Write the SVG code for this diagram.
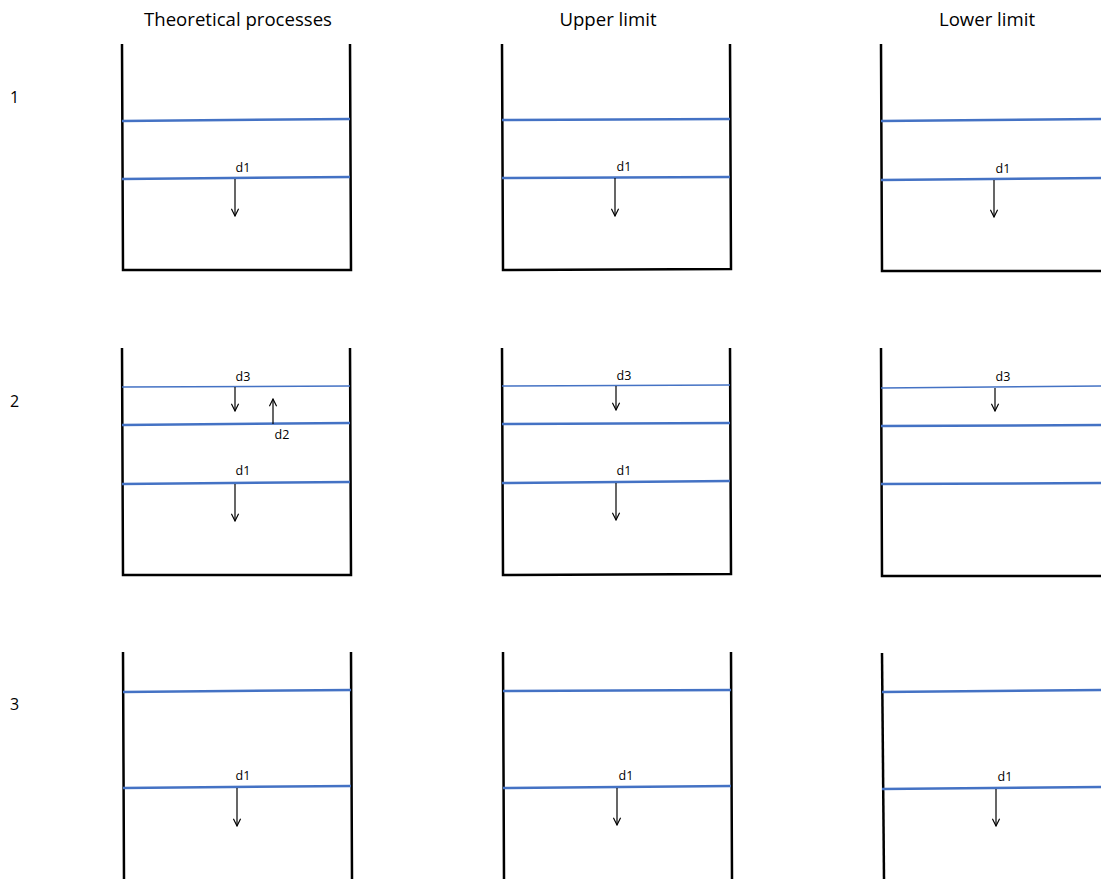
<svg xmlns="http://www.w3.org/2000/svg" width="1101" height="879" viewBox="0 0 1101 879">
<style>
.wall{stroke:#000;stroke-width:2.5;fill:none}
.lay{stroke:#4472c4;stroke-width:2.5;fill:none}
.thin{stroke:#4472c4;stroke-width:1.5;fill:none}
.arr{stroke:#000;stroke-width:1.2;fill:none}
.hd{font-family:"Open Sans",sans-serif;font-size:18.6px;fill:#000;text-anchor:middle}
.rn{font-family:"Open Sans",sans-serif;font-size:16px;fill:#000}
.lb{font-family:"Open Sans",sans-serif;font-size:12.5px;fill:#000;text-anchor:middle}
</style>
<defs>
<marker id="ah" viewBox="0 0 10 10" refX="9" refY="5" markerWidth="9" markerHeight="9" orient="auto" markerUnits="userSpaceOnUse">
<path d="M1,1 L9,5 L1,9" fill="none" stroke="#000" stroke-width="1.3"/>
</marker>
</defs>
<rect width="1101" height="879" fill="#fff"/>
<g id="headers">
<text class="hd" x="238" y="26">Theoretical processes</text>
<text class="hd" x="608" y="26">Upper limit</text>
<text class="hd" x="987" y="26">Lower limit</text>
</g>
<g id="rows">
<text class="rn" x="10" y="103">1</text>
<text class="rn" x="10" y="407">2</text>
<text class="rn" x="10" y="710">3</text>
</g>
<g id="r1c1">
<path class="wall" d="M122,44 L123,270 L351,270 L350,44"/>
<path class="lay" d="M122,121 L350,119"/>
<path class="lay" d="M122,179 L350,177"/>
<text class="lb" x="243" y="172">d1</text>
</g>
<g id="r1c2">
<path class="wall" d="M502,44 L503,270 L731,269 L730,44"/>
<path class="lay" d="M502,120 L730,119"/>
<path class="lay" d="M502,178 L730,177"/>
<text class="lb" x="624" y="171">d1</text>
</g>
<g id="r1c3">
<path class="wall" d="M881,44 L882,271 L1101,271"/>
<path class="lay" d="M881,121 L1101,119"/>
<path class="lay" d="M881,180 L1101,178"/>
<text class="lb" x="1003" y="173">d1</text>
</g>
<g id="r2c1">
<path class="wall" d="M122,348 L123,575 L351,575 L350,348"/>
<path class="thin" d="M122,387 L350,386"/>
<path class="lay" d="M122,425 L350,423"/>
<path class="lay" d="M122,484 L350,482"/>
<text class="lb" x="243" y="381">d3</text>
<text class="lb" x="282" y="439">d2</text>
<text class="lb" x="243" y="475">d1</text>
</g>
<g id="r2c2">
<path class="wall" d="M502,348 L503,575 L731,574 L730,348"/>
<path class="thin" d="M502,386 L730,385"/>
<path class="lay" d="M502,424 L730,423"/>
<path class="lay" d="M502,483 L730,481"/>
<text class="lb" x="624" y="380">d3</text>
<text class="lb" x="624" y="475">d1</text>
</g>
<g id="r2c3">
<path class="wall" d="M881,348 L882,576 L1101,576"/>
<path class="thin" d="M881,388 L1101,386"/>
<path class="lay" d="M881,426 L1101,425"/>
<path class="lay" d="M881,484 L1101,483"/>
<text class="lb" x="1003" y="381">d3</text>
</g>
<g id="r3c1">
<path class="wall" d="M123,652 L124,879 M351,652 L352,879"/>
<path class="lay" d="M123,692 L351,690"/>
<path class="lay" d="M123,788 L351,786"/>
<text class="lb" x="243" y="780">d1</text>
</g>
<g id="r3c2">
<path class="wall" d="M503,652 L504,879 M731,652 L732,879"/>
<path class="lay" d="M503,691 L731,690"/>
<path class="lay" d="M503,788 L731,786"/>
<text class="lb" x="626" y="780">d1</text>
</g>
<g id="r3c3">
<path class="wall" d="M882,653 L884,879"/>
<path class="lay" d="M882,692 L1101,690"/>
<path class="lay" d="M882,789 L1101,787"/>
<text class="lb" x="1005" y="781">d1</text>
</g>
<g id="connectors">
<path class="arr" d="M235,179 L235,216" marker-end="url(#ah)"/>
<path class="arr" d="M615,178 L615,216" marker-end="url(#ah)"/>
<path class="arr" d="M994,180 L994,217" marker-end="url(#ah)"/>
<path class="arr" d="M235,387 L235,411" marker-end="url(#ah)"/>
<path class="arr" d="M273,424 L273,399" marker-end="url(#ah)"/>
<path class="arr" d="M235,484 L235,521" marker-end="url(#ah)"/>
<path class="arr" d="M616,386 L616,410" marker-end="url(#ah)"/>
<path class="arr" d="M616,483 L616,520" marker-end="url(#ah)"/>
<path class="arr" d="M995,388 L995,411" marker-end="url(#ah)"/>
<path class="arr" d="M237,788 L237,826" marker-end="url(#ah)"/>
<path class="arr" d="M617,788 L617,825" marker-end="url(#ah)"/>
<path class="arr" d="M996,789 L996,826" marker-end="url(#ah)"/>
</g>
</svg>
